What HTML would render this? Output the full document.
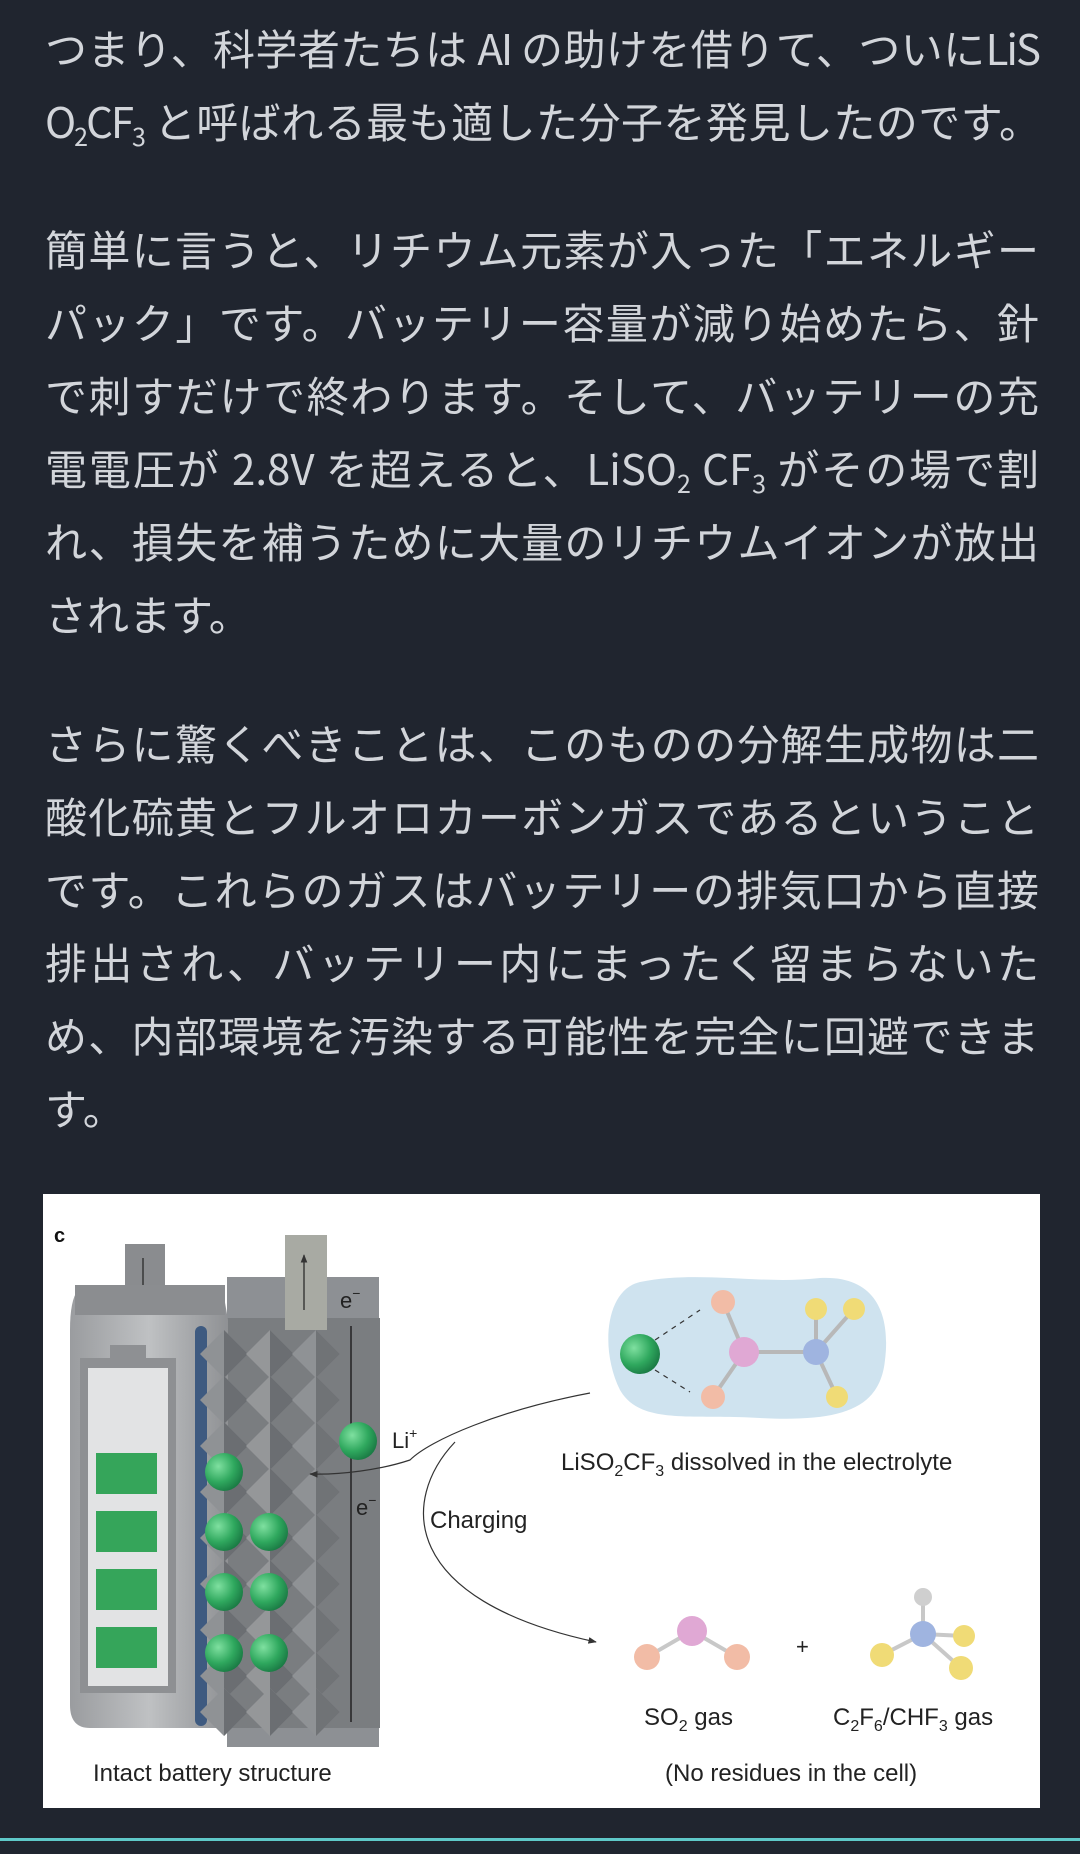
<!DOCTYPE html>
<html><head><meta charset="utf-8">
<style>
html,body{margin:0;padding:0;}
body{width:1080px;height:1854px;background:#20252f;position:relative;overflow:hidden;font-family:"Noto Sans CJK JP","Liberation Sans",sans-serif;}
.p{position:absolute;left:45px;width:994px;color:#d2d5da;font-size:42px;line-height:73px;font-family:"Noto Sans CJK JP","Liberation Sans",sans-serif;}
.p div{height:73px;white-space:nowrap;overflow:visible;}
.j{text-align:justify;text-align-last:justify;}
.t{letter-spacing:-2px;}
.s{font-size:25px;vertical-align:-8px;}
.fig{position:absolute;left:43px;top:1194px;width:997px;height:614px;background:#fff;}
.line{position:absolute;left:0;top:1838px;width:1080px;height:3px;background:#5fc9c9;}
</style></head><body>
<div class="p" style="top:11px">
<div class="j t">つまり、科学者たちは AI の助けを借りて、ついにLiS</div>
<div class="j t">O<span class="s">2</span>CF<span class="s">3</span> と呼ばれる最も適した分子を発見したのです。</div>
</div>
<div class="p" style="top:212px">
<div class="j">簡単に言うと、リチウム元素が入った「エネルギー</div>
<div class="j">パック」です。バッテリー容量が減り始めたら、針</div>
<div class="j">で刺すだけで終わります。そして、バッテリーの充</div>
<div class="j">電電圧が 2.8V を超えると、LiSO<span class="s">2</span> CF<span class="s">3</span> がその場で割</div>
<div class="j">れ、損失を補うために大量のリチウムイオンが放出</div>
<div>されます。</div>
</div>
<div class="p" style="top:706px">
<div class="j">さらに驚くべきことは、このものの分解生成物は二</div>
<div class="j">酸化硫黄とフルオロカーボンガスであるということ</div>
<div class="j">です。これらのガスはバッテリーの排気口から直接</div>
<div class="j">排出され、バッテリー内にまったく留まらないた</div>
<div class="j">め、内部環境を汚染する可能性を完全に回避できま</div>
<div>す。</div>
</div>

<div class="fig"></div>
<svg style="position:absolute;left:0;top:0" width="1080" height="1854" font-family="Liberation Sans, sans-serif">
<defs>
<radialGradient id="g" cx="0.35" cy="0.35" r="0.7"><stop offset="0" stop-color="#7fe0a0"/><stop offset="0.6" stop-color="#2fa85e"/><stop offset="1" stop-color="#1a7a44"/></radialGradient>
<linearGradient id="pouch" x1="0" x2="1"><stop offset="0" stop-color="#9a9c9f"/><stop offset="0.5" stop-color="#bfc1c3"/><stop offset="1" stop-color="#8f9194"/></linearGradient>
<marker id="ah" viewBox="0 0 10 10" refX="9" refY="5" markerWidth="7" markerHeight="7" orient="auto"><path d="M0,1 L10,5 L0,9 z" fill="#333"/></marker>
</defs>
<text x="54" y="1242" font-size="20" font-weight="bold" fill="#111">c</text>
<rect x="227" y="1277" width="152" height="470" fill="#8d9094"/>
<rect x="205" y="1318" width="175" height="410" fill="#7a7d80"/>
<rect x="125" y="1244" width="40" height="50" fill="#8a8c8f"/>
<line x1="143" y1="1258" x2="143" y2="1300" stroke="#222" stroke-width="1.2" marker-end="url(#ah)"/>
<rect x="285" y="1235" width="42" height="95" fill="#a8aaa3"/>
<line x1="304" y1="1310" x2="304" y2="1255" stroke="#222" stroke-width="1.2" marker-end="url(#ah)"/>
<path d="M78,1290 L222,1285 L228,1320 L228,1728 L90,1728 Q70,1728 70,1705 L70,1330 Q70,1300 78,1290 Z" fill="url(#pouch)"/>
<rect x="75" y="1285" width="150" height="30" fill="#8b8d90"/>
<rect x="80" y="1358" width="96" height="335" fill="#8e9093"/>
<rect x="110" y="1345" width="36" height="15" fill="#8e9093"/>
<rect x="88" y="1368" width="80" height="318" fill="#e2e3e4"/>
<rect x="96" y="1453" width="61" height="41" fill="#35a55a"/>
<rect x="96" y="1511" width="61" height="41" fill="#35a55a"/>
<rect x="96" y="1569" width="61" height="41" fill="#35a55a"/>
<rect x="96" y="1627" width="61" height="41" fill="#35a55a"/>
<rect x="195" y="1326" width="12" height="400" rx="6" fill="#3e5a80"/>
<g>
<g id="row">
<polygon points="224,1330 248,1354 224,1378 200,1354" fill="#8f9295"/><polygon points="224,1330 248,1354 224,1378" fill="#6b6e72"/>
<polygon points="270,1330 294,1354 270,1378 246,1354" fill="#959799"/><polygon points="270,1330 294,1354 270,1378" fill="#6b6e72"/>
<polygon points="316,1330 340,1354 316,1378 292,1354" fill="#8f9295"/><polygon points="316,1330 340,1354 316,1378" fill="#707376"/>
</g>
<use href="#row" y="46"/><use href="#row" y="92"/><use href="#row" y="138"/><use href="#row" y="184"/><use href="#row" y="230"/><use href="#row" y="276"/><use href="#row" y="322"/><use href="#row" y="358"/>
</g>
<line x1="351" y1="1326" x2="351" y2="1722" stroke="#222" stroke-width="1.5"/>
<g fill="url(#g)">
<circle cx="224" cy="1472" r="19"/>
<circle cx="224" cy="1532" r="19"/><circle cx="269" cy="1532" r="19"/>
<circle cx="224" cy="1592" r="19"/><circle cx="269" cy="1592" r="19"/>
<circle cx="224" cy="1653" r="19"/><circle cx="269" cy="1653" r="19"/>
<circle cx="358" cy="1441" r="19"/>
</g>
<text x="340" y="1308" font-size="22" fill="#222">e<tspan font-size="14" dy="-10">−</tspan></text>
<text x="356" y="1515" font-size="22" fill="#222">e<tspan font-size="14" dy="-10">−</tspan></text>
<text x="392" y="1448" font-size="22" fill="#222">Li<tspan font-size="14" dy="-10">+</tspan></text>
<path d="M590,1393 C500,1410 430,1440 410,1460 C380,1470 340,1475 310,1474" fill="none" stroke="#333" stroke-width="1.2" marker-end="url(#ah)"/>
<path d="M455,1442 C400,1500 400,1600 596,1642" fill="none" stroke="#333" stroke-width="1.2" marker-end="url(#ah)"/>
<text x="430" y="1528" font-size="24" fill="#222">Charging</text>
<path d="M640,1282 C700,1270 760,1285 820,1278 C880,1275 890,1320 885,1360 C880,1410 840,1422 760,1418 C690,1414 640,1425 620,1390 C600,1350 605,1290 640,1282 Z" fill="#cfe3ef"/>
<g stroke="#b8b8b8" stroke-width="4"><line x1="723" y1="1302" x2="744" y2="1352"/><line x1="744" y1="1352" x2="713" y2="1397"/><line x1="744" y1="1352" x2="816" y2="1352"/><line x1="816" y1="1352" x2="816" y2="1309"/><line x1="816" y1="1352" x2="854" y2="1309"/><line x1="816" y1="1352" x2="837" y2="1397"/></g>
<g stroke="#333" stroke-width="1.2" stroke-dasharray="5,5"><line x1="655" y1="1340" x2="700" y2="1310"/><line x1="655" y1="1370" x2="690" y2="1392"/></g>
<circle cx="640" cy="1354" r="20" fill="url(#g)"/>
<circle cx="723" cy="1302" r="12" fill="#f2bca6"/><circle cx="713" cy="1397" r="12" fill="#f2bca6"/>
<circle cx="744" cy="1352" r="15" fill="#e0a8d4"/><circle cx="816" cy="1352" r="13" fill="#9fb4e0"/>
<circle cx="816" cy="1309" r="11" fill="#f0db76"/><circle cx="854" cy="1309" r="11" fill="#f0db76"/><circle cx="837" cy="1397" r="11" fill="#f0db76"/>
<text x="561" y="1470" font-size="24" fill="#222">LiSO<tspan font-size="16" dy="6">2</tspan><tspan dy="-6">CF</tspan><tspan font-size="16" dy="6">3</tspan><tspan dy="-6"> dissolved in the electrolyte</tspan></text>
<g stroke="#c8c8c8" stroke-width="4"><line x1="692" y1="1631" x2="647" y2="1657"/><line x1="692" y1="1631" x2="737" y2="1657"/><line x1="923" y1="1597" x2="923" y2="1634"/><line x1="923" y1="1634" x2="964" y2="1636"/><line x1="923" y1="1634" x2="882" y2="1655"/><line x1="923" y1="1634" x2="961" y2="1668"/></g>
<circle cx="692" cy="1631" r="15" fill="#e0a8d4"/><circle cx="647" cy="1657" r="13" fill="#f2bca6"/><circle cx="737" cy="1657" r="13" fill="#f2bca6"/>
<text x="796" y="1654" font-size="22" fill="#222">+</text>
<circle cx="923" cy="1597" r="9" fill="#cfcfcf"/><circle cx="923" cy="1634" r="13" fill="#9fb4e0"/>
<circle cx="964" cy="1636" r="11" fill="#f0db76"/><circle cx="882" cy="1655" r="12" fill="#f0db76"/><circle cx="961" cy="1668" r="12" fill="#f0db76"/>
<text x="644" y="1725" font-size="24" fill="#222">SO<tspan font-size="16" dy="6">2</tspan><tspan dy="-6"> gas</tspan></text>
<text x="833" y="1725" font-size="24" fill="#222">C<tspan font-size="16" dy="6">2</tspan><tspan dy="-6">F</tspan><tspan font-size="16" dy="6">6</tspan><tspan dy="-6">/CHF</tspan><tspan font-size="16" dy="6">3</tspan><tspan dy="-6"> gas</tspan></text>
<text x="93" y="1781" font-size="24" fill="#222">Intact battery structure</text>
<text x="665" y="1781" font-size="24" fill="#222">(No residues in the cell)</text>
</svg>
<div class="line"></div>
</body></html>
